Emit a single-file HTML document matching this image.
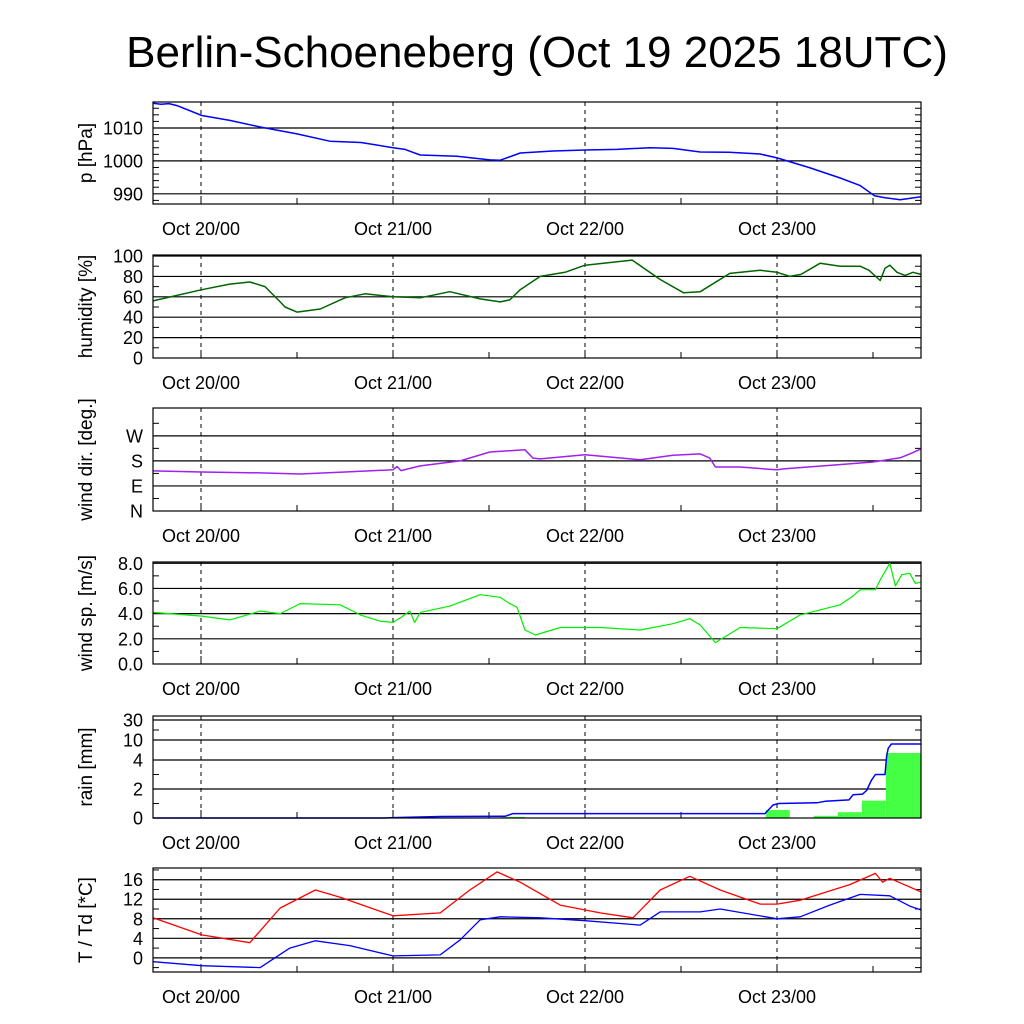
<!DOCTYPE html>
<html><head><meta charset="utf-8">
<style>
body{margin:0;background:#fff;}
svg{display:block;font-family:"Liberation Sans",sans-serif;}
</style></head>
<body>
<svg id="c" width="1024" height="1024" viewBox="0 0 1024 1024" xmlns="http://www.w3.org/2000/svg">
<text x="537" y="67" font-size="44" text-anchor="middle">Berlin-Schoeneberg (Oct 19 2025 18UTC)</text>
</svg>
<script>
// ---- data (hours since Oct 19 18UTC) ----
const dayTicks = [6, 30, 54, 78];
const dayLabels = ["Oct 20/00", "Oct 21/00", "Oct 22/00", "Oct 23/00"];

const presT = [0,1,2,3,6.1,9.6,13.4,18,22.1,26,30,31.5,33.4,38,42.1,43.4,45.9,50,54,58,62.1,65,68.4,72,75.9,78,82,85.9,88.4,90.2,91.5,93.4,96];
const presV = [1017.5,1017.2,1017.4,1016.8,1013.8,1012.3,1010.3,1008.2,1006,1005.6,1004,1003.5,1001.8,1001.4,1000.3,1000.2,1002.4,1003,1003.3,1003.5,1004,1003.8,1002.7,1002.6,1002.1,1000.9,998,994.8,992.5,989.4,988.8,988.2,989.1];

const humT = [0,6.1,9.6,12.1,14,15.9,16.5,18,20.9,24,26.5,30,33.4,37.1,40.9,43.4,44.6,45.9,48.4,51.5,54,59.9,63.4,66.3,68.4,72.1,75.9,78,79.6,81,83.4,85.9,88.4,89.5,90.9,91.5,92.1,93,94,95,96];
const humV = [56,67,72.5,74.5,70,55,50,45,48,59,63,60,59,65,58,55,57,67,80,84,91,96,77,64,65,83,86,84,80,82,93,90,90,86,76,88,91,84,81,84,82];

const dirT = [0,6.1,13.4,18.4,24,30,30.5,31,33.4,38.4,42.1,46.5,47.5,48.4,54,60.9,65,68.4,69.6,70.3,73.4,76.9,78,79,85,90,93.4,94.6,96];
const dirV = [144,140,137,133,140,148,160,145,162,180,212,220,190,187,202,184,200,205,190,158,158,150,148,152,165,176,191,205,223];

const spdT = [0,6.1,9.6,13.4,15.9,18.4,23.4,25.9,28.4,30,31,32.1,32.7,33.4,37.1,40.9,43.4,44.6,45.5,46.5,47.8,50.9,55.9,60.9,65,67.1,68.4,70.3,73.4,78,80.9,85.9,87.5,88.4,90.3,91,92.1,92.8,93.6,94.6,95.3,96];
const spdV = [4.1,3.8,3.5,4.2,4.0,4.8,4.7,3.9,3.4,3.3,3.7,4.2,3.3,4.1,4.6,5.5,5.3,4.8,4.5,2.7,2.3,2.9,2.9,2.7,3.2,3.6,3.1,1.7,2.9,2.8,3.9,4.7,5.4,5.9,5.9,6.8,8.0,6.2,7.1,7.2,6.4,6.5];

const rainBinStart = [30, 33, 43.5, 76.6, 82.6, 85.6, 88.6, 91.6];
const rainBinVal = [0.05, 0.05, 0.08, 0.55, 0.15, 0.4, 1.2, 6.1];
const rainCumT = [0,29,30,36,44,45,76.5,77.5,78.2,83,84,87,87.5,88.7,89.2,89.8,90.3,91.5,91.7,91.9,92.3,96];
const rainCumV = [0,0,0.03,0.1,0.12,0.3,0.3,0.9,1.0,1.05,1.15,1.25,1.6,1.65,1.9,2.6,3.0,3.0,5,7.5,8.8,8.8];

const tempT = [0,6.1,12.1,15.9,20.3,23.4,30,35.9,39.6,43,45.9,50.9,55.9,60,63.4,67.1,70.9,75.9,78,80.9,87.1,90.3,91.2,92.1,96];
const tempV = [8.2,4.7,3.1,10.2,13.9,12.4,8.6,9.2,13.9,17.6,15.5,10.8,9.2,8.2,13.9,16.7,13.9,11,11,11.8,15,17.3,15.5,16.3,13.5];
const dewT = [0,6.1,13.4,17.1,20.3,24.6,30,35.9,38.4,40.9,43.4,48.4,54,60.9,63.4,68.4,70.9,78,80.9,84.6,88.4,92.1,94.6,96];
const dewV = [-0.8,-1.6,-2,2,3.5,2.5,0.4,0.6,3.7,7.8,8.4,8.2,7.6,6.7,9.4,9.4,10,8,8.4,10.8,13,12.7,10.6,9.8];

// ---- layout ----
const svg = document.getElementById('c');
const NS = 'http://www.w3.org/2000/svg';
const X0 = 153, X1 = 921;
function xs(h){ return X0 + (X1 - X0) * h / 96; }
function mk(tag, attrs, parent){
  const e = document.createElementNS(NS, tag);
  for (const k in attrs) e.setAttribute(k, attrs[k]);
  (parent || svg).appendChild(e);
  return e;
}
function linearY(min, max, top, bot){ return v => bot - (v - min) / (max - min) * (bot - top); }
function pathFrom(T, V, y){ return T.map((t,i)=>(i?'L':'M')+xs(t).toFixed(1)+','+y(V[i]).toFixed(1)).join(''); }

function panel(name, top, bot, y, ticks, labels, minor, title){
  const g = mk('g', {});
  
  
  ticks.forEach((t,i)=>{
    const yy = y(t);
    if (yy > top + 1 && yy < bot - 1) {
      const l = mk('line', {x1:X0, x2:X1, y1:yy, y2:yy, stroke:'#000', 'stroke-width':1.2}, g);
      
      
    }
    const tx = mk('text', {x:143, y:yy + 6.5, 'font-size':18, 'text-anchor':'end'}, g);
    tx.textContent = labels[i];
    
    
  });
  minor.forEach(t=>{
    const yy = y(t);
    mk('line', {x1:X0, x2:X0 + 6, y1:yy, y2:yy, stroke:'#000'}, g);
    mk('line', {x1:X1 - 6, x2:X1, y1:yy, y2:yy, stroke:'#000'}, g);
  });
  dayTicks.forEach((d,i)=>{
    const l = mk('line', {x1:xs(d), x2:xs(d), y1:top, y2:bot, stroke:'#000', 'stroke-dasharray':'4,4'}, g);
    
    
    mk('line', {x1:xs(d), x2:xs(d), y1:bot - 8, y2:bot, stroke:'#000'}, g);
    mk('line', {x1:xs(d+12), x2:xs(d+12), y1:bot - 6, y2:bot, stroke:'#000'}, g);
    const tx = mk('text', {x:xs(d), y:bot + 31, 'font-size':18, 'text-anchor':'middle'}, g);
    tx.textContent = dayLabels[i];
    
    
  });
  const at = mk('text', {x:0, y:0, 'font-size':19, 'text-anchor':'middle', transform:`translate(92,${(top+bot)/2}) rotate(-90)`}, g);
  at.textContent = title;
  
  
  return g;
}
function frame(top, bot){ mk('rect', {x:X0, y:top, width:X1-X0, height:bot-top, fill:'none', stroke:'#000', 'stroke-width':1.2}); }
function line(T, V, y, color, name, w){
  const p = mk('path', {d:pathFrom(T,V,y), fill:'none', stroke:color, 'stroke-width':w||1.5, 'stroke-linejoin':'round'});
  
  
}

const yP = linearY(986.9, 1017.9, 102, 204);
panel('pressure', 102, 204, yP, [990,1000,1010], ['990','1000','1010'], [988,992,994,996,998,1002,1004,1006,1008,1012,1014,1016], 'p [hPa]');
line(presT, presV, yP, '#0000ff', 'pressure-line');
frame(102, 204);

const yH = linearY(0, 101, 255, 358);
panel('humidity', 255, 358, yH, [0,20,40,60,80,100], ['0','20','40','60','80','100'], [10,30,50,70,90], 'humidity [%]');
line(humT, humV, yH, '#006400', 'humidity-line');
frame(255, 358);

const yD = linearY(0, 370, 408, 511);
panel('wind-dir', 408, 511, yD, [0,90,180,270], ['N','E','S','W'], [45,135,225,315], 'wind dir. [deg.]');
line(dirT, dirV, yD, '#a020f0', 'wind-dir-line');
frame(408, 511);

const yS = linearY(0, 8.1, 562, 664);
panel('wind-speed', 562, 664, yS, [0,2,4,6,8], ['0.0','2.0','4.0','6.0','8.0'], [1,3,5,7], 'wind sp. [m/s]');
line(spdT, spdV, yS, '#00ee00', 'wind-speed-line', 1.2);
frame(562, 664);

const rTickV = [0,2,4,10,30,35];
const rTickP = [818,789,760,740,720,716];
function yR(v){
  for (let i=0;i<rTickV.length-1;i++){
    if (v <= rTickV[i+1]) return rTickP[i] + (v - rTickV[i])/(rTickV[i+1]-rTickV[i])*(rTickP[i+1]-rTickP[i]);
  }
  return 716;
}
panel('rain', 716, 818, yR, [0,2,4,10,30], ['0','2','4','10','30'], [1,3,20], 'rain [mm]');
rainBinStart.forEach((s,i)=>{
  const e = (i === rainBinStart.length - 1) ? 96 : Math.min(s + 3, 96);
  const b = mk('rect', {x:xs(s), y:yR(rainBinVal[i]), width:xs(e)-xs(s), height:818 - yR(rainBinVal[i]), fill:'#44ff44'});
  
  
});
line(rainCumT, rainCumV, yR, '#0000ff', 'rain-cumulative-line');
frame(716, 818);

const yT = linearY(-2.9, 18.4, 868, 972);
panel('temperature', 868, 972, yT, [0,4,8,12,16], ['0','4','8','12','16'], [-2,2,6,10,14,18], 'T / Td [*C]');
line(tempT, tempV, yT, '#ff0000', 'temperature-line', 1.3);
line(dewT, dewV, yT, '#0000ff', 'dewpoint-line', 1.3);
frame(868, 972);
</script>
</body></html>
